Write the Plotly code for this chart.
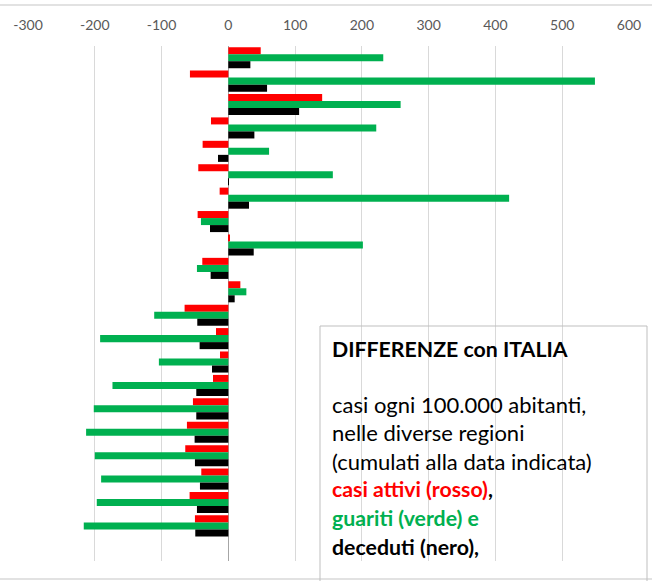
import plotly.graph_objects as go

regioni = ["Piemonte", "Valle d'Aosta", "Lombardia", "P.A. Bolzano", "P.A. Trento",
           "Veneto", "Friuli V.G.", "Liguria", "Emilia-Romagna", "Toscana", "Umbria",
           "Marche", "Lazio", "Abruzzo", "Molise", "Campania", "Puglia", "Basilicata",
           "Calabria", "Sicilia", "Sardegna", "Italia"]

casi_attivi = [48.5, -57.5, 140.5, -26, -38.5, -45, -13, -46, 2, -39, 18, -65.5,
               -18.5, -12.5, -23, -53, -62, -64.5, -40.5, -58, -50, 0]
guariti = [232, 549, 258, 221.5, 61, 156.5, 420.5, -41, 201.5, -47, 27, -111,
           -192, -104, -173.5, -201.5, -213, -200, -190.5, -197, -216.5, 0]
deceduti = [33, 58, 106, 39, -15.5, 0.5, 31, -27.5, 38, -26.5, 9.5, -46.5,
            -43, -24.5, -48, -48, -50.5, -50, -42.5, -47, -49.5, 0]

x_ticks = [-300, -200, -100, 0, 100, 200, 300, 400, 500, 600]

FONT = "Lato"
W, H = 652, 581
L, R, T, B = 28, 23, 46, 20
PW, PH = W - L - R, H - T - B


def xp(px):
    return (px - L) / PW


def yp(py):
    return (H - B - py) / PH


fig = go.Figure()
for name, vals, col in [("casi attivi", casi_attivi, "#FF0000"),
                        ("guariti", guariti, "#00B050"),
                        ("deceduti", deceduti, "#000000")]:
    fig.add_trace(go.Bar(y=regioni, x=vals, orientation="h", name=name,
                         marker=dict(color=col, line=dict(width=0))))

fig.update_layout(
    template="none",
    width=W, height=H,
    margin=dict(l=L, r=R, t=T, b=B, pad=0),
    paper_bgcolor="white", plot_bgcolor="white",
    barmode="group", bargap=0.1, bargroupgap=0,
    showlegend=False,
    font=dict(family=FONT, color="#595959"),
    xaxis=dict(side="top", range=[-300, 600], tickmode="array", tickvals=x_ticks,
               ticktext=[str(v) for v in x_ticks],
               showgrid=True, gridcolor="#d9d9d9", gridwidth=1,
               zeroline=True, zerolinecolor="#a6a6a6", zerolinewidth=1,
               showline=False, ticks="", tickfont=dict(size=14, color="#595959"),
               ticklabelstandoff=12, fixedrange=True, automargin=False),
    yaxis=dict(autorange="reversed", showticklabels=False, showgrid=False,
               zeroline=False, showline=False, ticks="", fixedrange=True,
               automargin=False),
)

# outer chart border (top and bottom visible)
fig.add_shape(type="line", xref="paper", yref="paper", x0=xp(0), x1=xp(W),
              y0=yp(5), y1=yp(5), line=dict(color="#d9d9d9", width=1.5))
fig.add_shape(type="line", xref="paper", yref="paper", x0=xp(0), x1=xp(W),
              y0=yp(579), y1=yp(579), line=dict(color="#d9d9d9", width=1.5))

# text box
fig.add_shape(type="rect", xref="paper", yref="paper", x0=xp(320), x1=xp(647),
              y0=yp(583), y1=yp(326), line=dict(color="#bfbfbf", width=1),
              fillcolor="rgba(0,0,0,0)")

lines = [
    ("<b>DIFFERENZE con ITALIA</b>", "#000000", 349, 21.3),
    ("casi ogni 100.000 abitanti,", "#000000", 404, 22),
    ("nelle diverse regioni", "#000000", 432, 22),
    ("(cumulati alla data indicata)", "#000000", 461, 22),
    ("<b><span style='color:#FF0000'>casi attivi (rosso)</span>,</b>", "#000000", 489, 21.3),
    ("<b>guariti (verde) e</b>", "#00B050", 518, 21.3),
    ("<b>deceduti (nero),</b>", "#000000", 547, 21.3),
]
for txt, col, py, sz in lines:
    fig.add_annotation(text=txt, xref="paper", yref="paper", x=xp(330), y=yp(py),
                       xanchor="left", yanchor="middle", showarrow=False,
                       font=dict(family=FONT, size=sz, color=col))

fig.write_html("out.html", config={"displayModeBar": False},
               post_script="document.body.style.margin='0';document.body.style.overflow='hidden';")
